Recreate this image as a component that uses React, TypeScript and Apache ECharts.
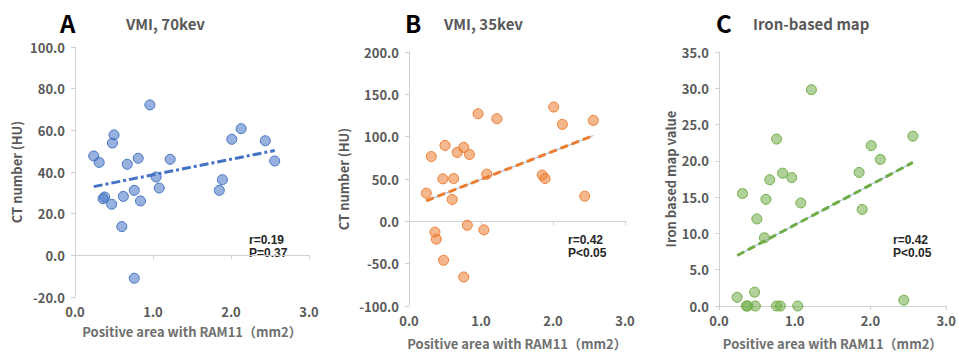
import React, { useEffect, useRef } from "react";
import * as echarts from "echarts";

const xValues = [0.24, 0.31, 0.36, 0.38, 0.47, 0.48, 0.5, 0.6, 0.62, 0.67, 0.76, 0.76, 0.81, 0.84, 0.96, 1.04, 1.08, 1.22, 1.85, 1.89, 2.01, 2.13, 2.44, 2.56];
const ctA = [47.7, 44.6, 27.2, 28.0, 24.5, 53.9, 57.8, 13.8, 28.3, 43.7, 31.2, -11.0, 46.6, 26.1, 72.2, 37.6, 32.3, 46.1, 31.2, 36.3, 55.7, 60.8, 55.0, 45.3];
const ctB = [33.3, 76.6, -12.8, -21.1, 50.2, -46.0, 89.6, 25.8, 50.6, 81.4, 87.3, -65.7, -4.6, 79.0, 127.1, -10.1, 55.7, 121.2, 54.6, 50.6, 135.0, 114.5, 29.7, 119.2];
const ironC = [1.2, 15.5, 0.0, 0.0, 1.9, 0.0, 12.0, 9.4, 14.7, 17.4, 0.0, 23.0, 0.0, 18.3, 17.7, 0.0, 14.2, 29.8, 18.4, 13.3, 22.1, 20.2, 0.8, 23.4];

const panelLetters = ["A", "B", "C"];
const panelTitles = ["VMI, 70kev", "VMI, 35kev", "Iron-based map"];
const yNames = ["CT number (HU)", "CT number (HU)", "Iron based map value"];
const xName = "Positive area with RAM11（mm2）";
const rTexts = ["r=0.19", "r=0.42", "r=0.42"];
const pTexts = ["P=0.37", "P<0.05", "P<0.05"];
const yMins = [-20, -100, 0];
const yMaxs = [100, 200, 35];
const yIntervals = [20, 50, 5];

const FONT = "'Noto Sans CJK JP', 'Noto Sans', sans-serif";
const STAT_FONT = "'Liberation Sans Narrow', 'Liberation Sans', sans-serif";

function trend(xs: number[], ys: number[]) {
  const n = xs.length;
  const mx = xs.reduce((a, b) => a + b, 0) / n;
  const my = ys.reduce((a, b) => a + b, 0) / n;
  let sxy = 0, sxx = 0;
  for (let i = 0; i < n; i++) {
    sxy += (xs[i] - mx) * (ys[i] - my);
    sxx += (xs[i] - mx) * (xs[i] - mx);
  }
  const b = sxy / sxx;
  const a = my - b * mx;
  const x0 = Math.min(...xs);
  const x1 = Math.max(...xs);
  return [[x0, a + b * x0], [x1, a + b * x1]];
}

export default function App() {
  const ref = useRef<HTMLDivElement>(null);
  useEffect(() => {
    document.body.style.margin = "0";
    const chart = echarts.init(ref.current!, undefined, { renderer: "svg" });
    const ys = [ctA, ctB, ironC];
    const mains = ["#4472c4", "#ed7d31", "#70ad47"];
    const fills = ["rgba(68,114,196,0.55)", "rgba(237,125,49,0.55)", "rgba(112,173,71,0.55)"];
    const grids = [
      { left: 75, top: 47, width: 234, height: 250 },
      { left: 409, top: 52, width: 216, height: 254 },
      { left: 719, top: 52, width: 230, height: 254 },
    ];
    const yGaps = [52, 59, 42];
    const xGaps = [28, 31, 31];
    const axisLineColor = "#d0d0d0";
    const labelStyle = { color: "#595959", fontSize: 13, fontWeight: "bold" as const, fontFamily: FONT };

    const xAxis = grids.map((_, i) => ({
      type: "value",
      gridIndex: i,
      min: 0,
      max: 3,
      interval: 1,
      name: xName,
      nameLocation: "middle",
      nameGap: xGaps[i],
      nameTextStyle: { ...labelStyle, color: "#6f6f6f" },
      axisLine: { show: true, lineStyle: { color: axisLineColor, width: 1 } },
      axisTick: { show: true, length: 4, lineStyle: { color: axisLineColor } },
      splitLine: { show: false },
      axisLabel: { ...labelStyle, margin: 8, formatter: (v: number) => v.toFixed(1) },
    }));
    const yAxis = grids.map((_, i) => ({
      type: "value",
      gridIndex: i,
      min: yMins[i],
      max: yMaxs[i],
      interval: yIntervals[i],
      name: yNames[i],
      nameLocation: "middle",
      nameGap: yGaps[i],
      nameTextStyle: { ...labelStyle },
      axisLine: { show: true, lineStyle: { color: axisLineColor, width: 1 } },
      axisTick: { show: true, length: 4, lineStyle: { color: axisLineColor } },
      splitLine: { show: false },
      axisLabel: { ...labelStyle, margin: 10, formatter: (v: number) => v.toFixed(1) },
    }));

    const series: any[] = [];
    ys.forEach((yv, i) => {
      const tl = trend(xValues, yv);
      if (i > 0) {
        series.push({
          type: "line",
          xAxisIndex: i,
          yAxisIndex: i,
          data: tl,
          showSymbol: false,
          silent: true,
          z: 2,
          lineStyle: { color: "#8fb4e3", width: 1 },
        });
      }
      series.push({
        type: "line",
        xAxisIndex: i,
        yAxisIndex: i,
        data: tl,
        showSymbol: false,
        silent: true,
        z: 3,
        lineStyle: { color: mains[i], width: 3, type: i === 0 ? [9, 3, 3, 3] : [8, 4] },
      });
      series.push({
        type: "scatter",
        xAxisIndex: i,
        yAxisIndex: i,
        data: xValues.map((x, k) => [x, yv[k]]),
        symbolSize: 10,
        z: 4,
        itemStyle: { color: fills[i], borderColor: mains[i], borderWidth: 1, opacity: 1 },
      });
    });

    const letterPos = [[60, 10], [405, 10], [716, 10]];
    const titlePos = [[126, 16], [444, 16], [753, 16]];
    const statPos = [[249, 234], [568, 234], [893, 234]];
    const graphic: any[] = [];
    for (let i = 0; i < 3; i++) {
      graphic.push({
        type: "text",
        x: letterPos[i][0],
        y: letterPos[i][1],
        style: { text: panelLetters[i], fill: "#000", font: `bold 24px ${FONT}` },
      });
      graphic.push({
        type: "text",
        x: titlePos[i][0],
        y: titlePos[i][1],
        style: { text: panelTitles[i], fill: "#595959", font: `bold 15px ${FONT}` },
      });
      graphic.push({
        type: "text",
        x: statPos[i][0],
        y: statPos[i][1],
        style: { text: rTexts[i], fill: "#262626", font: `bold 12px ${STAT_FONT}` },
      });
      graphic.push({
        type: "text",
        x: statPos[i][0],
        y: statPos[i][1] + 13,
        style: { text: pTexts[i], fill: "#262626", font: `bold 12px ${STAT_FONT}` },
      });
    }

    chart.setOption({
      animation: false,
      backgroundColor: "#ffffff",
      grid: grids,
      xAxis,
      yAxis,
      series,
      graphic,
    });
    return () => chart.dispose();
  }, []);
  return <div ref={ref} style={{ width: 959, height: 356 }} />;
}
